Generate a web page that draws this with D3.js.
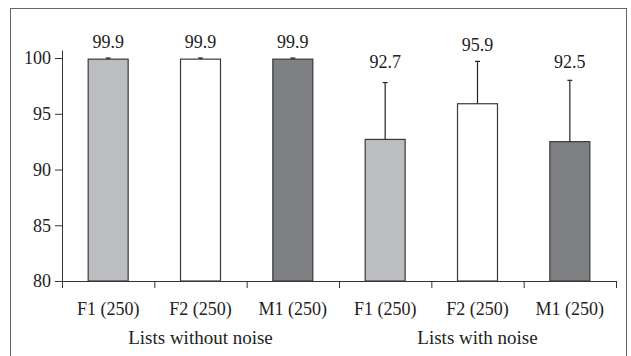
<!DOCTYPE html>
<html>
<head>
<meta charset="utf-8">
<script src="https://cdn.jsdelivr.net/npm/d3@7"></script>
<style>
  body { margin: 0; background: #fff; }
  svg text { font-family: "Liberation Serif", "Times New Roman", serif !important; fill: #222; }
</style>
</head>
<body>
<svg id="chart" width="631" height="356"></svg>
<script>
// data
const categories = ["F1 (250)", "F2 (250)", "M1 (250)", "F1 (250)", "F2 (250)", "M1 (250)"];
const groups = ["Lists without noise", "Lists with noise"];
const means = [99.9, 99.9, 99.9, 92.7, 95.9, 92.5];
const errors = [0.1, 0.1, 0.1, 5.1, 3.8, 5.5];
const fills = ["#bcbdc0", "#ffffff", "#7f8083", "#bcbdc0", "#ffffff", "#7f8083"];
const yTicks = [80, 85, 90, 95, 100];

const svg = d3.select("#chart");

// outer frame
svg.append("rect")
    .attr("x", 10.5).attr("y", 8.5)
    .attr("width", 616).attr("height", 360)
    .attr("fill", "none")
    .attr("stroke", "#666")
    .attr("stroke-width", 1);

const plotLeft = 62, plotRight = 616, plotTop = 50, plotBottom = 281;
const fs = 18;

const x = d3.scaleBand()
    .domain(d3.range(categories.length))
    .range([plotLeft, plotRight])
    .paddingInner(0.567)
    .paddingOuter(0.2835);

const y = d3.scaleLinear()
    .domain([80, 100.72])
    .range([plotBottom, plotTop]);

// y axis
const yAxis = svg.append("g")
    .attr("transform", `translate(${plotLeft},0)`)
    .call(d3.axisLeft(y).tickValues(yTicks).tickSize(7).tickPadding(4).tickSizeOuter(0));
yAxis.select(".domain").attr("stroke", "#333");
yAxis.selectAll(".tick line").attr("stroke", "#333");
yAxis.selectAll("text").attr("font-size", fs).attr("fill", "#222");

// x axis: ticks at band boundaries
const xb = d3.scaleLinear().domain([0, categories.length]).range([plotLeft, plotRight]);
const xAxis = svg.append("g")
    .attr("transform", `translate(0,${plotBottom})`)
    .call(d3.axisBottom(xb).tickValues(d3.range(categories.length + 1)).tickSize(7).tickFormat("").tickSizeOuter(0));
xAxis.select(".domain").attr("stroke", "#333");
xAxis.selectAll(".tick line").attr("stroke", "#333");

// bars
svg.selectAll("rect.bar")
    .data(means)
    .enter().append("rect")
    .attr("class", "bar")
    .attr("x", (d, i) => x(i))
    .attr("y", d => y(d))
    .attr("width", x.bandwidth())
    .attr("height", d => y(80) - y(d))
    .attr("fill", (d, i) => fills[i])
    .attr("stroke", "#3a3a3a")
    .attr("stroke-width", 1.2);

// error bars (upward only)
means.forEach((m, i) => {
    const cx = x(i) + x.bandwidth() / 2;
    const yt = y(m + errors[i]);
    svg.append("line")
        .attr("x1", cx).attr("x2", cx)
        .attr("y1", y(m)).attr("y2", yt)
        .attr("stroke", "#222").attr("stroke-width", 1.2);
    svg.append("line")
        .attr("x1", cx - 2.5).attr("x2", cx + 2.5)
        .attr("y1", yt).attr("y2", yt)
        .attr("stroke", "#222").attr("stroke-width", 1.2);
});

// value labels
svg.selectAll("text.val")
    .data(means)
    .enter().append("text")
    .attr("class", "val")
    .attr("x", (d, i) => x(i) + x.bandwidth() / 2)
    .attr("y", (d, i) => Math.min(y(d + errors[i]) - 10, 68))
    .attr("text-anchor", "middle")
    .attr("font-size", fs)
    .text(d => d.toFixed(1));

// category labels
svg.selectAll("text.cat")
    .data(categories)
    .enter().append("text")
    .attr("class", "cat")
    .attr("x", (d, i) => x(i) + x.bandwidth() / 2)
    .attr("y", 315)
    .attr("text-anchor", "middle")
    .attr("font-size", fs)
    .text(d => d);

// group labels
svg.selectAll("text.grp")
    .data(groups)
    .enter().append("text")
    .attr("class", "grp")
    .attr("x", (d, i) => xb(i * 3 + 1.5))
    .attr("y", 344)
    .attr("text-anchor", "middle")
    .attr("font-size", fs + 1)
    .text(d => d);
</script>
</body>
</html>
